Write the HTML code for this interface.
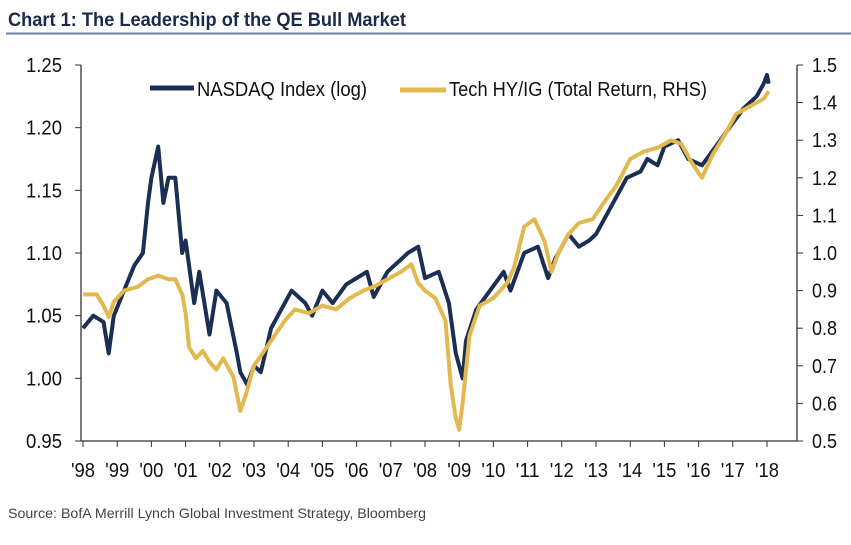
<!DOCTYPE html>
<html><head><meta charset="utf-8"><style>
body{margin:0;background:#fff;width:851px;height:540px;overflow:hidden;font-family:"Liberation Sans Narrow","Liberation Sans",sans-serif}
</style></head><body>
<svg width="851" height="540" xmlns="http://www.w3.org/2000/svg">
<text x="8" y="26" font-size="19" font-weight="bold" fill="#1a2a4a" textLength="398" lengthAdjust="spacingAndGlyphs">Chart 1: The Leadership of the QE Bull Market</text>
<line x1="6" y1="33.5" x2="851" y2="33.5" stroke="#6a83a3" stroke-width="2"/>
<g id="axes"></g>
<g id="series"></g>
<g>
<line x1="150" y1="88" x2="194" y2="88" stroke="#1b2f55" stroke-width="5"/>
<text x="197" y="96" font-size="20" fill="#111" textLength="170" lengthAdjust="spacingAndGlyphs">NASDAQ Index (log)</text>
<line x1="400" y1="90" x2="446" y2="90" stroke="#e3b94f" stroke-width="5"/>
<text x="449" y="96" font-size="20" fill="#111" textLength="258" lengthAdjust="spacingAndGlyphs">Tech HY/IG (Total Return, RHS)</text>
</g>
<text x="8" y="518" font-size="14" fill="#444" textLength="418" lengthAdjust="spacingAndGlyphs">Source:  BofA Merrill Lynch Global Investment Strategy, Bloomberg</text>
</svg>
<script>
const leftTicks=[0.95,1.00,1.05,1.10,1.15,1.20,1.25];
const rightTicks=[0.5,0.6,0.7,0.8,0.9,1.0,1.1,1.2,1.3,1.4,1.5];
const yearLabels=["'98","'99","'00","'01","'02","'03","'04","'05","'06","'07","'08","'09","'10","'11","'12","'13","'14","'15","'16","'17","'18"];
const nasdaqT=[1998.0,1998.3,1998.6,1998.75,1998.9,1999.2,1999.5,1999.75,1999.9,2000.0,2000.2,2000.35,2000.5,2000.7,2000.9,2001.0,2001.25,2001.4,2001.7,2001.9,2002.2,2002.5,2002.6,2002.8,2003.0,2003.2,2003.5,2003.9,2004.1,2004.5,2004.7,2005.0,2005.3,2005.7,2006.0,2006.3,2006.5,2006.9,2007.3,2007.5,2007.8,2008.0,2008.4,2008.7,2008.9,2009.1,2009.2,2009.5,2009.9,2010.3,2010.5,2010.9,2011.3,2011.6,2011.8,2012.2,2012.5,2012.8,2013.0,2013.5,2013.9,2014.3,2014.5,2014.8,2015.0,2015.4,2015.7,2016.1,2016.5,2016.9,2017.3,2017.7,2017.9,2018.0,2018.05];
const nasdaqV=[1.04,1.05,1.045,1.02,1.05,1.07,1.09,1.10,1.14,1.16,1.185,1.14,1.16,1.16,1.10,1.11,1.06,1.085,1.035,1.07,1.06,1.02,1.005,0.995,1.01,1.005,1.04,1.06,1.07,1.06,1.05,1.07,1.06,1.075,1.08,1.085,1.065,1.085,1.095,1.10,1.105,1.08,1.085,1.06,1.02,1.00,1.03,1.055,1.07,1.085,1.07,1.10,1.105,1.08,1.095,1.115,1.105,1.11,1.115,1.14,1.16,1.165,1.175,1.17,1.185,1.19,1.175,1.17,1.185,1.20,1.215,1.225,1.235,1.242,1.235];
const techT=[1998.0,1998.4,1998.6,1998.75,1998.9,1999.2,1999.6,1999.9,2000.2,2000.5,2000.7,2000.9,2001.0,2001.1,2001.3,2001.5,2001.7,2001.9,2002.1,2002.4,2002.6,2002.75,2003.0,2003.3,2003.6,2003.9,2004.2,2004.6,2005.0,2005.4,2005.8,2006.2,2006.5,2006.9,2007.3,2007.6,2007.8,2008.0,2008.3,2008.6,2008.75,2008.9,2009.0,2009.1,2009.3,2009.6,2010.0,2010.4,2010.6,2010.9,2011.2,2011.5,2011.7,2011.9,2012.2,2012.5,2012.9,2013.2,2013.6,2014.0,2014.4,2014.8,2015.2,2015.5,2015.8,2016.1,2016.4,2016.8,2017.1,2017.5,2017.9,2018.05];
const techV=[0.89,0.89,0.86,0.83,0.87,0.90,0.91,0.93,0.94,0.93,0.93,0.89,0.84,0.75,0.72,0.74,0.71,0.69,0.72,0.67,0.58,0.62,0.70,0.74,0.78,0.82,0.85,0.84,0.86,0.85,0.88,0.90,0.91,0.93,0.95,0.97,0.92,0.90,0.88,0.82,0.65,0.56,0.53,0.60,0.78,0.86,0.88,0.92,0.96,1.07,1.09,1.03,0.95,1.00,1.05,1.08,1.09,1.13,1.18,1.25,1.27,1.28,1.30,1.29,1.24,1.20,1.26,1.32,1.37,1.39,1.41,1.43];
const NS="http://www.w3.org/2000/svg";
const L=81,R=797,T=65,B=441,X0=83,XS=34.2;
const xS=t=>X0+(t-1998)*XS;
const yL=v=>B-(v-0.95)/0.30*(B-T);
const yR=v=>B-(v-0.5)/1.0*(B-T);
function mk(tag,attrs,parent){const e=document.createElementNS(NS,tag);for(const k in attrs)e.setAttribute(k,attrs[k]);parent.appendChild(e);return e;}
const ax=document.getElementById('axes');
let e;
e=mk('line',{x1:L,y1:T,x2:L,y2:B,stroke:'#333','stroke-width':1.3},ax);


e=mk('line',{x1:R,y1:T,x2:R,y2:B,stroke:'#333','stroke-width':1.3},ax);


e=mk('line',{x1:L,y1:B,x2:R,y2:B,stroke:'#333','stroke-width':1.3},ax);


leftTicks.forEach(v=>{const y=yL(v);
mk('line',{x1:L-6,y1:y,x2:L,y2:y,stroke:'#333'},ax);
e=mk('text',{x:26,y:y+7,'font-size':20,fill:'#111',textLength:36,lengthAdjust:'spacingAndGlyphs'},ax);e.textContent=v.toFixed(2);

});
rightTicks.forEach(v=>{const y=yR(v);
mk('line',{x1:R,y1:y,x2:R+6,y2:y,stroke:'#333'},ax);
e=mk('text',{x:812,y:y+7,'font-size':20,fill:'#111',textLength:25,lengthAdjust:'spacingAndGlyphs'},ax);e.textContent=v.toFixed(1);

});
yearLabels.forEach((s,i)=>{const x=xS(1998+i);
mk('line',{x1:x,y1:B,x2:x,y2:B+6,stroke:'#333'},ax);
e=mk('text',{x:x-12,y:477,'font-size':20,fill:'#111',textLength:24,lengthAdjust:'spacingAndGlyphs'},ax);e.textContent=s;

});
const sg=document.getElementById('series');
function line(ts,vs,ys,color){return mk('polyline',{points:ts.map((t,i)=>xS(t).toFixed(1)+','+ys(vs[i]).toFixed(1)).join(' '),fill:'none',stroke:color,'stroke-width':4,'stroke-linejoin':'round'},sg);}
e=line(nasdaqT,nasdaqV,yL,'#1b2f55');


e=line(techT,techV,yR,'#e3b94f');


</script>
</body></html>
